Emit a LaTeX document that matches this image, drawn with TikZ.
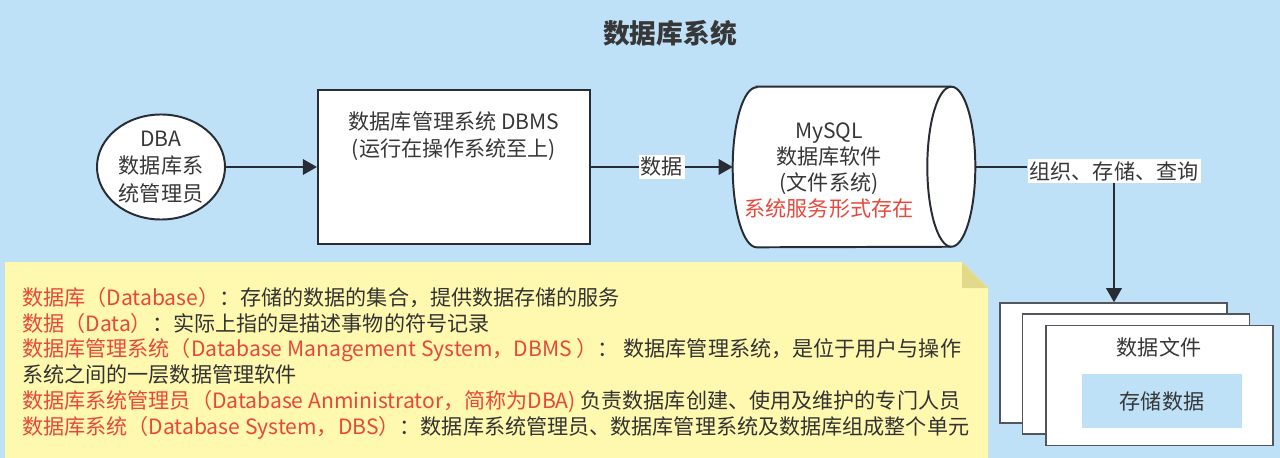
\documentclass[tikz,border=0pt]{standalone}
\usepackage{fontspec}
\setmainfont{Noto Sans CJK SC}
\usetikzlibrary{positioning,arrows.meta,shapes.geometric}
\definecolor{skyback}{RGB}{190,225,248}
\definecolor{notefill}{RGB}{255,248,175}
\definecolor{notefold}{RGB}{226,218,138}
\definecolor{termred}{RGB}{232,72,60}
\definecolor{inktext}{RGB}{55,55,55}
\definecolor{inkline}{RGB}{40,44,52}

\begin{document}
\begin{tikzpicture}[x=0.025cm, y=-0.025cm, >={Triangle[length=10pt,width=11pt]},
  every node/.style={font=\fontsize{15}{19.5}\selectfont, text=inktext},
  flow/.style={draw=inkline, line width=1.4pt},
  box/.style={draw=inkline, line width=1.4pt, fill=white},
  page/.style={draw=inkline!80, line width=1pt, fill=white, minimum width=5.68cm, minimum height=3cm}]
\fill[skyback] (0,0) rectangle (1280,458);
\node[font=\fontsize{19}{23}\selectfont\bfseries] (title) at (670,33) {数据库系统};

% top row
\node[box, ellipse, inner sep=0pt, minimum width=3.2cm, minimum height=2.625cm, align=center] (dba) at (161,167) {DBA\\数据库系\\统管理员};
\node[box, minimum width=6.8cm, minimum height=3.825cm,
  label={[anchor=north, align=center, yshift=-12pt]north:数据库管理系统 DBMS\\(运行在操作系统至上)}] (dbms) at (454,167) {};
\node[inner sep=0pt, minimum width=6.05cm, minimum height=4cm] (mysql) at (854,167) {};
\draw[box] ([xshift=0.6cm]mysql.north west) -- ([xshift=-0.6cm]mysql.north east)
  arc[start angle=90, end angle=-90, x radius=0.6cm, y radius=2cm]
  -- ([xshift=0.6cm]mysql.south west)
  arc[start angle=-90, end angle=-270, x radius=0.6cm, y radius=2cm] -- cycle;
\draw[flow] ([xshift=-0.6cm]mysql.north east) arc[start angle=90, end angle=270, x radius=0.6cm, y radius=2cm];
\node[align=center, font=\fontsize{15}{18.5}\selectfont] (mysqltxt) at (829,171) {MySQL\\数据库软件\\(文件系统)\\\textcolor{termred}{系统服务形式存在}};
\node[fill=white, inner sep=1.5pt] (orgq) at (1114,171) {组织、存储、查询};

% data files
\node[page] (file1) at (1113.5,363) {};
\node[page] (file2) at (1136,374) {};
\node[page] (file3) at (1159.5,385.5) {};
\node (filetxt) at (1159,347) {数据文件};
\node[fill=skyback, minimum width=4cm, minimum height=1.35cm] (stored) at (1162,401) {存储数据};

\draw[flow, ->] (dba) -- (dbms);
\draw[flow, ->] (dbms) -- node[fill=white, inner sep=1.5pt] (datalbl) {数据} (mysql);
\draw[flow] (mysql.east) -- (mysql.east -| orgq.west);
\draw[flow, ->] (orgq.south) -- (orgq.south |- file1.north);

% note
\fill[notefill] (5,262) -- (962,262) -- (988,288) -- (988,458) -- (5,458) -- cycle;
\fill[notefold] (962,262) -- (988,288) -- (962,288) -- cycle;
\node[anchor=north west, inner sep=0pt, align=left, font=\fontsize{15}{18.3}\selectfont, text=black!80] (terms) at (22,287) {%
\textcolor{termred}{数据库（Database）}：存储的数据的集合，提供数据存储的服务\\
\textcolor{termred}{数据（Data）}：实际上指的是描述事物的符号记录\\
\textcolor{termred}{数据库管理系统（Database Management System，DBMS ）}： 数据库管理系统，是位于用户与操作\\
系统之间的一层数据管理软件\\
\textcolor{termred}{数据库系统管理员（Database Anministrator，简称为DBA)} 负责数据库创建、使用及维护的专门人员\\
\textcolor{termred}{数据库系统（Database System，DBS）}：数据库系统管理员、数据库管理系统及数据库组成整个单元};
\end{tikzpicture}
\end{document}
